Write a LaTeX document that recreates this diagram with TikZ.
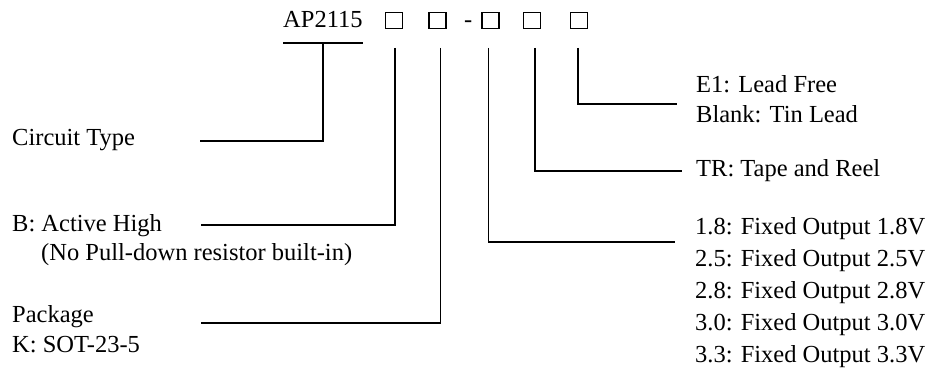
\documentclass[tikz,border=0pt]{standalone}
\usepackage{fontspec}
\setmainfont{Liberation Serif}
\begin{document}
\begin{tikzpicture}[x=1pt,y=1pt,
  lbl/.style={anchor=base west,inner sep=0pt,font=\fontsize{24.5}{30}\selectfont},
  sq/.style={draw,line width=1.6pt,minimum width=17pt,minimum height=16pt,inner sep=0pt},
  conn/.style={line width=1.9pt,line join=miter}]
\useasboundingbox (0,0) rectangle (931,371);
% part number
\node[lbl] (ap) at (283,343) {AP2115};
\node[sq] (b1) at (394,350.5) {};
\node[sq] (b2) at (437.5,350.5) {};
\node[lbl] (dash) at (464,343) {-};
\node[sq] (b3) at (490.5,350.5) {};
\node[sq] (b4) at (532,350.5) {};
\node[sq] (b5) at (579,350.5) {};
% labels left
\node[lbl] (circ) at (12,225) {Circuit Type};
\node[lbl] (bA) at (12,139) {B: Active High};
\node[lbl] (bB) at (41,110) {(No Pull-down resistor built-in)};
\node[lbl] (pA) at (12,48) {Package};
\node[lbl] (pB) at (12,18) {K: SOT-23-5};
% labels right
\node[lbl] (eA) at (696,278) {E1: Lead Free};
\node[lbl] (eB) at (696,248) {Blank: Tin Lead};
\node[lbl] (tr) at (696,194) {TR: Tape and Reel};
\node[lbl] (v1) at (695,136) {1.8: Fixed Output 1.8V};
\node[lbl] (v2) at (695,104) {2.5: Fixed Output 2.5V};
\node[lbl] (v3) at (695,72) {2.8: Fixed Output 2.8V};
\node[lbl] (v4) at (695,40) {3.0: Fixed Output 3.0V};
\node[lbl] (v5) at (695,8) {3.3: Fixed Output 3.3V};
% connector ends
\coordinate (ulA) at (283,328);
\coordinate (ulB) at (363,328);
\coordinate (c0) at (323,328);
\coordinate (c1) at (200,230);
\coordinate (t1) at (395,323);
\coordinate (e1) at (201,146);
\coordinate (t2) at (440.5,323);
\coordinate (e2) at (201,48);
\coordinate (t3) at (488.5,323);
\coordinate (e3) at (675,129);
\coordinate (t4) at (535,323);
\coordinate (e4) at (682,200);
\coordinate (t5) at (578,323);
\coordinate (e5) at (677,267);
\draw[conn] (ulA) -- (ulB);
\draw[conn] (c0) |- (c1);
\draw[conn] (t1) |- (e1);
\draw[conn] (t2) |- (e2);
\draw[conn] (t3) |- (e3);
\draw[conn] (t4) |- (e4);
\draw[conn] (t5) |- (e5);
\end{tikzpicture}
\end{document}
